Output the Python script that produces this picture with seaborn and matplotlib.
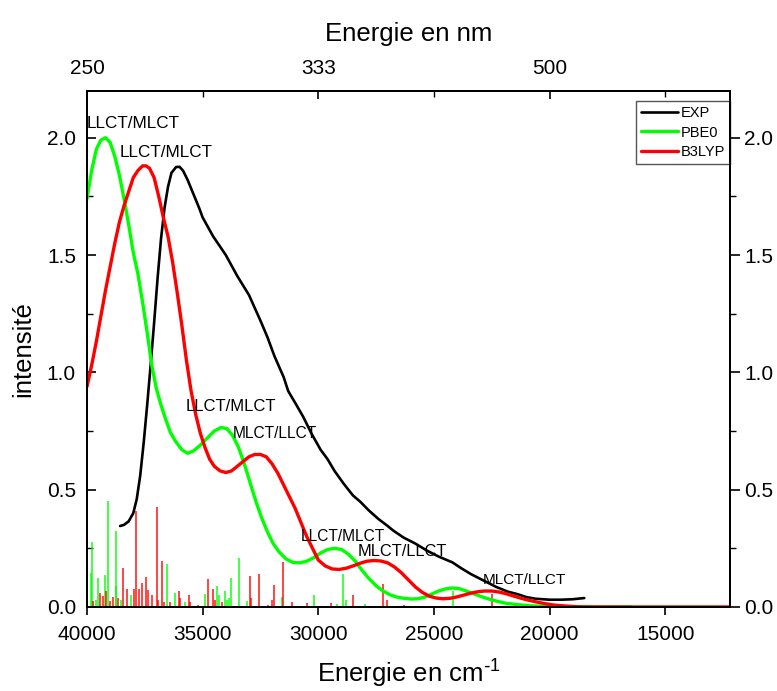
"""
UV-vis spectrum: experimental curve vs PBE0 / B3LYP simulated spectra
with the individual transitions drawn as sticks.
"""

import matplotlib
matplotlib.use("Agg")
import matplotlib.pyplot as plt
from matplotlib.ticker import MultipleLocator, FormatStrFormatter, FixedLocator
import pandas as pd
import seaborn as sns

# experimental spectrum (cm-1, intensity)
exp_cm = [38570, 38400, 38200, 38000, 37850, 37700, 37550, 37400, 37250, 37100,
          36950, 36800, 36650, 36500, 36350, 36150, 36000, 35850, 35650, 35400,
          35150, 35000, 34550, 34000, 33500, 33000, 32500, 32200, 31900, 31500,
          31300, 31000, 30650, 30300, 29900, 29600, 29300, 28900, 28500, 28200,
          27800, 27400, 27000, 26750, 26300, 25800, 25300, 24800, 24200, 23850,
          23400, 22800, 22300, 21800, 21400, 21000, 20600, 20000, 19500, 19000,
          18500]
exp_int = [0.345, 0.35, 0.365, 0.40, 0.46, 0.56, 0.70, 0.86, 1.03, 1.21,
           1.40, 1.57, 1.70, 1.79, 1.85, 1.875, 1.876, 1.86, 1.82, 1.76,
           1.70, 1.66, 1.58, 1.50, 1.41, 1.33, 1.22, 1.15, 1.07, 0.98,
           0.92, 0.87, 0.81, 0.74, 0.67, 0.63, 0.58, 0.525, 0.475, 0.45,
           0.41, 0.375, 0.345, 0.325, 0.295, 0.27, 0.24, 0.215, 0.19, 0.167,
           0.14, 0.11, 0.085, 0.065, 0.055, 0.042, 0.035, 0.031, 0.031, 0.033,
           0.038]

# PBE0 simulated spectrum
pbe0_cm = [40000, 39800, 39600, 39400, 39200, 39000, 38800, 38600, 38400, 38200,
           38000, 37800, 37600, 37400, 37200, 37000, 36800, 36600, 36400, 36200,
           35900, 35650, 35400, 35100, 34800, 34500, 34200, 33950, 33700, 33450,
           33200, 32950, 32700, 32450, 32200, 31950, 31700, 31400, 31100, 30800,
           30500, 30200, 29900, 29600, 29300, 29000, 28700, 28400, 28100, 27800,
           27500, 27200, 26900, 26600, 26300, 26000, 25700, 25400, 25100, 24800,
           24500, 24200, 23900, 23600, 23300, 23000, 22700, 22300, 21900, 21400,
           20800, 20000, 19000, 16500]
pbe0_int = [1.74, 1.86, 1.95, 1.99, 2.00, 1.98, 1.92, 1.84, 1.74, 1.63,
            1.51, 1.42, 1.30, 1.17, 1.03, 0.93, 0.86, 0.80, 0.745, 0.71,
            0.67, 0.655, 0.665, 0.69, 0.72, 0.75, 0.765, 0.76, 0.73, 0.68,
            0.61, 0.53, 0.45, 0.38, 0.32, 0.27, 0.235, 0.205, 0.19, 0.188,
            0.195, 0.21, 0.23, 0.245, 0.25, 0.245, 0.225, 0.195, 0.155, 0.12,
            0.09, 0.068, 0.052, 0.042, 0.037, 0.034, 0.035, 0.042, 0.055, 0.068,
            0.077, 0.081, 0.078, 0.068, 0.057, 0.046, 0.036, 0.025, 0.016, 0.01,
            0.005, 0.002, 0.0, 0.0]

# B3LYP simulated spectrum
b3lyp_cm = [40000, 39800, 39600, 39400, 39200, 39000, 38800, 38600, 38400, 38200,
            38000, 37800, 37600, 37450, 37300, 37100, 36900, 36700, 36500, 36300,
            36100, 35900, 35700, 35500, 35300, 35100, 34900, 34700, 34500, 34250,
            34000, 33750, 33500, 33250, 33000, 32750, 32500, 32250, 32000, 31750,
            31500, 31250, 31000, 30750, 30500, 30250, 30000, 29700, 29400, 29100,
            28800, 28500, 28200, 27900, 27600, 27300, 27000, 26700, 26400, 26100,
            25800, 25500, 25200, 24900, 24600, 24300, 24000, 23700, 23400, 23100,
            22800, 22500, 22200, 21900, 21600, 21300, 21000, 20600, 20200, 19800,
            19300, 18800, 18000, 12200]
b3lyp_int = [0.94, 1.03, 1.13, 1.24, 1.35, 1.45, 1.55, 1.64, 1.71, 1.77,
             1.83, 1.86, 1.88, 1.88, 1.87, 1.83, 1.75, 1.66, 1.58, 1.47,
             1.34, 1.20, 1.05, 0.92, 0.82, 0.74, 0.68, 0.63, 0.60, 0.58,
             0.573, 0.58, 0.60, 0.62, 0.64, 0.65, 0.65, 0.64, 0.61, 0.57,
             0.52, 0.47, 0.42, 0.36, 0.30, 0.25, 0.20, 0.175, 0.162, 0.16,
             0.165, 0.175, 0.186, 0.195, 0.198, 0.196, 0.188, 0.17, 0.145, 0.115,
             0.085, 0.062, 0.046, 0.038, 0.035, 0.037, 0.043, 0.051, 0.059, 0.065,
             0.068, 0.068, 0.064, 0.057, 0.048, 0.039, 0.031, 0.022, 0.014, 0.008,
             0.004, 0.001, 0.0, 0.0]

# transitions (sticks)
pbe0_stick_cm = [39840, 39797, 39598, 39524, 39235, 39092, 38759, 38733, 38530, 38110,
                 36553, 36207, 35762, 34910, 34365, 34278, 34031, 33958, 33870, 33759,
                 33413, 33067, 31566, 30182, 29174, 28915, 28798, 27977, 24158, 22930,
                 21490]
pbe0_stick_f = [0.146, 0.275, 0.03, 0.124, 0.137, 0.453, 0.09, 0.322, 0.03, 0.05,
                0.182, 0.061, 0.02, 0.057, 0.09, 0.05, 0.068, 0.03, 0.04, 0.123,
                0.208, 0.025, 0.043, 0.051, 0.012, 0.14, 0.03, 0.012, 0.068, 0.005,
                0.003]
b3lyp_stick_cm = [39740, 39451, 39308, 39165, 39020, 38876, 38646, 38443, 38270, 37967,
                  37894, 37751, 37634, 37461, 37349, 37202, 36986, 36929, 36743, 36670,
                  36410, 36021, 35978, 35589, 35545, 35200, 34754, 34563, 34464, 34174,
                  32963, 32920, 32548, 32172, 32012, 31912, 31510, 31146, 30472, 29447,
                  28483, 27185, 27038, 26277, 22497]
b3lyp_stick_f = [0.026, 0.061, 0.047, 0.068, 0.026, 0.043, 0.04, 0.165, 0.077, 0.077,
                 0.41, 0.077, 0.104, 0.128, 0.072, 0.051, 0.425, 0.03, 0.194, 0.02,
                 0.02, 0.068, 0.04, 0.051, 0.02, 0.01, 0.118, 0.075, 0.03, 0.02,
                 0.132, 0.04, 0.14, 0.01, 0.03, 0.093, 0.19, 0.022, 0.015, 0.015,
                 0.05, 0.10, 0.03, 0.008, 0.057]

# band assignments: (text, x cm-1, y, fontsize)
annotations = [
    ("LLCT/MLCT", 40000, 2.06, 12.3),
    ("LLCT/MLCT", 38571, 1.936, 12.3),
    ("LLCT/MLCT", 35757, 0.853, 12),
    ("MLCT/LLCT", 33680, 0.738, 11.2),
    ("LLCT/MLCT", 30779, 0.299, 11.2),
    ("MLCT/LLCT", 28312, 0.235, 11.8),
    ("MLCT/LLCT", 22900, 0.115, 11),
]

bottom_ticks = [40000, 35000, 30000, 25000, 20000, 15000]
top_ticks = [40000, 30000, 20000]
top_labels = ["250", "333", "500"]

sns.set_style("ticks")
plt.rcParams["font.family"] = ["Liberation Sans", "DejaVu Sans"]
plt.rcParams["mathtext.default"] = "regular"
for key in ("text.color", "axes.labelcolor", "xtick.color", "ytick.color", "axes.edgecolor"):
    plt.rcParams[key] = "black"

fig = plt.figure(figsize=(7.77, 6.91), dpi=100)
ax = fig.add_axes([0.112, 0.1216, 0.8275, 0.747])

GREEN = "#00ff00"
RED = "#ff0000"

# sticks under the curves
ax.vlines(pbe0_stick_cm, 0, pbe0_stick_f, colors=GREEN, linewidth=1.2, alpha=0.85, zorder=1)
ax.vlines(b3lyp_stick_cm, 0, b3lyp_stick_f, colors=RED, linewidth=1.2, alpha=0.85, zorder=1)

df_exp = pd.DataFrame({"cm": exp_cm, "I": exp_int})
df_pbe0 = pd.DataFrame({"cm": pbe0_cm, "I": pbe0_int})
df_b3lyp = pd.DataFrame({"cm": b3lyp_cm, "I": b3lyp_int})

sns.lineplot(data=df_exp, x="cm", y="I", color="black", linewidth=1.9,
             label="EXP", estimator=None, sort=False, ax=ax, zorder=3)
sns.lineplot(data=df_pbe0, x="cm", y="I", color=GREEN, linewidth=2.4,
             label="PBE0", estimator=None, sort=False, ax=ax, zorder=3)
sns.lineplot(data=df_b3lyp, x="cm", y="I", color=RED, linewidth=2.4,
             label="B3LYP", estimator=None, sort=False, ax=ax, zorder=4)

for txt, xc, yc, fs in annotations:
    ax.text(xc, yc, txt, fontsize=fs, ha="left", va="center", color="black", zorder=5)

ax.set_xlim(40000, 12200)
ax.set_ylim(0, 2.2)
ax.xaxis.set_major_locator(FixedLocator(bottom_ticks))
ax.xaxis.set_major_formatter(FormatStrFormatter("%d"))
ax.yaxis.set_major_locator(MultipleLocator(0.5))
ax.yaxis.set_minor_locator(MultipleLocator(0.25))
ax.yaxis.set_major_formatter(FormatStrFormatter("%.1f"))

ax.tick_params(axis="x", which="major", direction="out", length=6, width=1.2,
               labelsize=15, pad=7)
ax.tick_params(axis="y", which="major", direction="in", length=6.5, width=1.2,
               labelsize=15, pad=8)
ax.tick_params(axis="y", which="minor", direction="in", length=4, width=1.0)

ax.set_xlabel("Energie en cm$^{\\text{-}1}$", fontsize=18.5, labelpad=10)
ax.set_ylabel("intensité", fontsize=18.5, labelpad=8)

for s in ax.spines.values():
    s.set_linewidth(1.3)

leg = ax.legend(loc="upper right", bbox_to_anchor=(1.0, 0.981), borderaxespad=0,
                fontsize=10.5, frameon=True, fancybox=False, edgecolor="#555555",
                framealpha=1, handlelength=2.5, handletextpad=0.2,
                labelspacing=0.4, borderpad=0.35)
leg.get_frame().set_linewidth(1.0)
leg.set_zorder(10)

# right axis (same scale, outward ticks)
axr = ax.twinx()
axr.set_ylim(ax.get_ylim())
axr.yaxis.set_major_locator(MultipleLocator(0.5))
axr.yaxis.set_minor_locator(MultipleLocator(0.25))
axr.yaxis.set_major_formatter(FormatStrFormatter("%.1f"))
axr.tick_params(axis="y", which="major", direction="out", length=7, width=1.2,
                labelsize=15, pad=3)
axr.tick_params(axis="y", which="minor", direction="out", length=4, width=1.0)

# top axis in nm
axt = ax.twiny()
axt.set_xlim(ax.get_xlim())
axt.xaxis.set_major_locator(FixedLocator(top_ticks))
axt.xaxis.set_minor_locator(FixedLocator([35000, 25000, 15000]))
axt.set_xticklabels(top_labels)
axt.tick_params(axis="x", which="major", direction="in", length=6, width=1.2,
                labelsize=15, pad=9)
axt.tick_params(axis="x", which="minor", direction="in", length=4, width=1.0)
axt.set_xlabel("Energie en nm", fontsize=18.5, labelpad=13)

for a in (axr, axt):
    for s in a.spines.values():
        s.set_linewidth(1.3)

fig.savefig("out.png", dpi=100)
